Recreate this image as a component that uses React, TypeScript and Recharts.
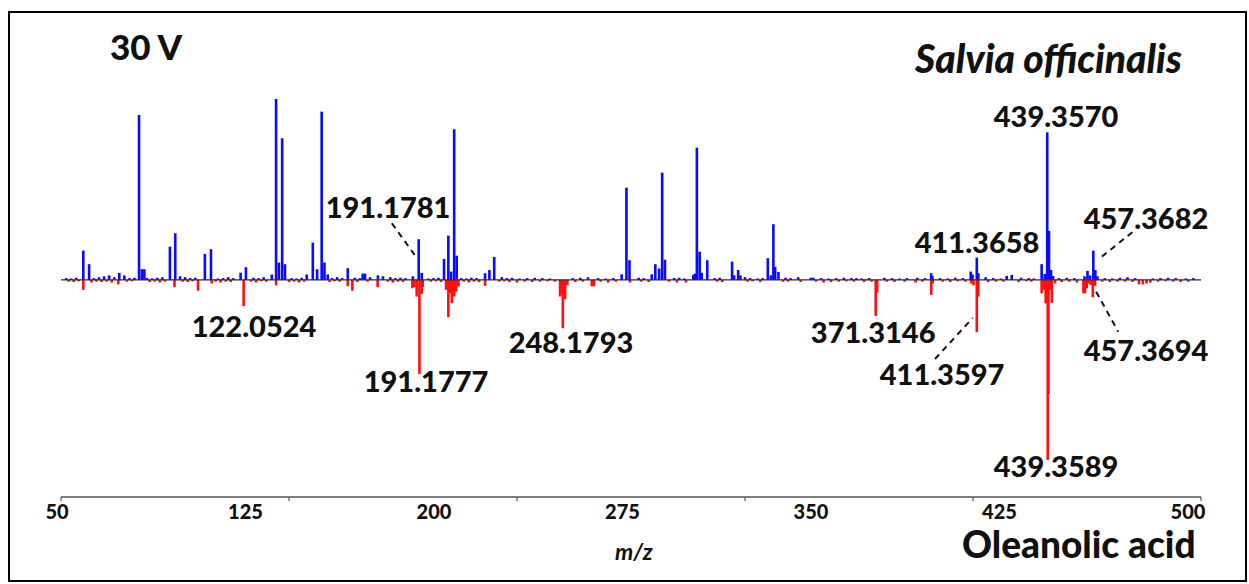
import React from "react";
import {
  BarChart,
  Bar,
  XAxis,
  YAxis,
  ReferenceLine,
  ReferenceDot,
} from "recharts";

// Salvia officinalis (sample) main peaks, relative intensity %
const sampleMz = [
  58.8, 61.1, 80.8, 81.9, 82.9, 93.0, 95.1, 106.8, 109.2, 120.9, 123.0, 133.2,
  134.9, 136.0, 137.3, 138.4, 147.0, 149.4, 151.1, 152.9, 154.0, 155.3, 163.2,
  169.1, 170.0, 175.1, 177.1, 188.9, 191.2, 192.4, 201.2, 202.9, 204.0, 205.2,
  206.2, 217.4, 219.1, 221.0, 271.3, 273.2, 274.4, 283.2, 284.6, 286.1, 287.3,
  288.4, 299.6, 300.3, 301.0, 302.1, 302.9, 305.1, 314.9, 315.7, 317.3, 318.2,
  329.0, 330.2, 331.2, 331.9, 333.2, 393.5, 394.0, 409.1, 409.8, 411.5, 412.1,
  423.3, 425.3, 437.1, 438.3, 439.3, 440.0, 440.8, 441.6, 454.0, 455.2, 456.2,
  457.5, 458.3, 459.1,
];
const sampleInt = [
  16.2, 8.7, 91.2, 5.9, 5.9, 18.4, 25.8, 14.4, 17, 4, 7, 3, 100, 9.6, 78.3,
  8.7, 3, 20.6, 5.9, 93, 9.6, 3, 6.5, 3.5, 3.5, 2.5, 2, 2, 22.5, 3.9, 11.6,
  24.5, 4.6, 83.3, 13.4, 3.7, 5.5, 12.7, 3.1, 51, 10.9, 3.1, 8.7, 6.3, 59.3,
  11.2, 2.8, 3.5, 73.1, 15.6, 4, 10.9, 10.1, 2.5, 5.5, 2.5, 12, 2.5, 30.8, 7.2,
  4.4, 3.7, 2, 4.6, 3, 12.3, 3.7, 2.2, 2.8, 8.7, 3.3, 81.6, 27.1, 5.5, 2.2, 2,
  5, 2.5, 16.2, 5.5, 2,
];

// Oleanolic acid (standard) main peaks, drawn downwards
const standardMz = [
  58.8, 72.6, 94.8, 104.1, 109.5, 122.1, 134.9, 163.2, 165.0, 175.0, 188.7,
  189.5, 190.4, 191.5, 192.4, 192.8, 202.0, 202.9, 203.6, 204.3, 205.2, 206.0,
  206.9, 217.4, 247.0, 247.4, 248.1, 249.0, 249.9, 259.5, 260.4, 371.6, 372.2,
  393.5, 394.1, 409.3, 410.2, 411.5, 412.1, 437.1, 438.0, 438.7, 439.5, 439.8,
  440.5, 441.1, 442.4, 453.6, 454.2, 454.9, 455.6, 456.5, 457.3, 458.2, 475.5,
  477.0, 478.5,
];
const standardInt = [
  -5.5, -2.5, -4, -6, -2, -14.5, -3, -3.5, -6, -4, -4.6, -4, -9.2, -52, -7.7,
  -4, -5.5, -20.6, -7.4, -12.9, -9.2, -6.5, -3.7, -3.3, -9.2, -8, -26.7, -10.7,
  -3, -3.5, -3.5, -19.9, -7, -8.3, -2, -2, -3, -28.9, -9.2, -7.4, -5.5, -13,
  -99.5, -63, -5.5, -12.7, -2, -7.4, -7.4, -4.6, -2, -2.8, -9.6, -3.3, -2.5,
  -2.5, -2,
];

// low-level noise along the baseline
const noiseBlueMz = [
  52, 54, 56, 63, 65, 67, 69, 71, 73, 75, 77, 79, 84, 86, 88, 90, 97, 99, 101,
  103, 112, 114, 116, 118, 126, 128, 130, 141, 143, 145, 157, 159, 161, 166,
  168, 172, 180, 182, 184, 186, 195, 197, 199, 208, 210, 212, 214, 224, 226,
  228, 231, 234, 237, 240, 243, 252, 255, 258, 262, 265, 268, 278, 280, 292,
  294, 296, 308, 310, 320, 322, 325, 327, 336, 338, 341, 346, 347, 350, 353,
  356, 359, 362, 364, 366, 369, 375, 378, 381, 384, 388, 391, 397, 400, 403,
  406, 415, 418, 421, 429, 432, 434, 444, 447, 450, 462, 465, 468, 471, 474,
  481, 484, 487, 490, 494, 497,
];
const noiseBlueInt = [
  1, 0.8, 1.2, 1, 1.5, 2, 2.5, 1.5, 3.9, 2.5, 1, 1.2, 1, 0.8, 1.2, 1.5, 2, 1.5,
  1, 1.2, 0.8, 1, 1.5, 1, 1.2, 1, 1.5, 1, 0.8, 1.2, 1, 1.5, 1, 1.2, 1, 1.5, 1.5,
  1, 1.2, 1, 0.8, 1, 1.2, 1, 0.8, 1.2, 1, 1.5, 1, 1.2, 0.8, 1, 1.2, 1, 0.8, 1,
  1.2, 1.5, 1, 0.8, 1, 1.2, 1, 1, 1.2, 0.8, 1, 1.2, 1.5, 1, 0.8, 1, 1.2, 1, 1.5,
  1.2, 1.2, 1, 0.8, 1, 1.2, 1, 1, 0.8, 1, 1.2, 1, 0.8, 1, 1.2, 1, 1, 0.8, 1.2,
  1, 1.5, 1, 0.8, 1.2, 1, 0.8, 1, 1.2, 1, 1, 0.8, 1.2, 1.5, 1, 0.8, 1, 1.2, 1,
  0.8, 1,
];
const noiseRedMz = [
  53, 55, 57, 62, 64, 66, 68, 70, 76, 78, 85, 87, 89, 91, 98, 100, 102, 111,
  113, 115, 117, 125, 127, 129, 131, 140, 142, 144, 146, 156, 158, 160, 167,
  171, 179, 181, 183, 185, 196, 198, 200, 209, 211, 213, 215, 223, 225, 227,
  230, 233, 236, 239, 242, 245, 253, 256, 263, 266, 269, 274.6, 279, 282, 290,
  293.1, 296.7, 309, 311, 321, 323, 326, 335, 337, 342, 348, 351, 354, 357,
  360, 363, 367, 370, 376, 379, 383, 387.3, 390, 398, 401, 404, 407, 416, 419,
  422, 428, 431, 433, 445, 448, 451, 461, 464, 467, 470, 473, 480, 483, 486,
  489, 492, 495, 498,
];
const noiseRedInt = [
  -1, -1.2, -0.8, -1.5, -1, -1.2, -1, -1.5, -1, -0.8, -1.2, -1, -1.5, -1, -1,
  -1.2, -0.8, -1, -1.5, -1, -1.2, -1, -1.5, -0.8, -1, -1.2, -1, -1.5, -1, -1.2,
  -0.8, -1, -1.2, -1, -1, -1.5, -1, -1.2, -1, -0.8, -1.2, -1, -1.5, -1, -1.2,
  -1, -0.8, -1.2, -1.5, -1, -1.2, -1, -0.8, -1, -1.2, -1, -1, -1.5, -1, -1.5,
  -1, -1.2, -1, -1.5, -1.5, -1, -1.2, -1, -0.8, -1.2, -1, -1, -1.2, -1, -1.5,
  -1.2, -1, -0.8, -1, -1.2, -1, -1, -1.2, -1, -1.5, -1, -1, -1.2, -0.8, -1,
  -1.2, -1, -1, -1.2, -0.8, -1, -1.2, -1, -1.5, -1, -1.2, -1, -1, -1.2, -1.5,
  -1, -0.8, -1, -1.2, -1,
];

// axis ticks
const tickLabels = [50, 125, 200, 275, 350, 425, 500];
const tickMarks = [50, 140, 230, 320, 410, 500];

// peak annotations: text, label position (m/z, intensity)
const peakLabels = [
  { text: "191.1781", x: 179.1, y: 39.8 },
  { text: "439.3570", x: 442.8, y: 90.1 },
  { text: "411.3658", x: 411.6, y: 20.5 },
  { text: "457.3682", x: 478.3, y: 33.7 },
  { text: "122.0524", x: 126.2, y: -26 },
  { text: "191.1777", x: 194.1, y: -56.4 },
  { text: "248.1793", x: 251.3, y: -34.8 },
  { text: "371.3146", x: 370.6, y: -29.3 },
  { text: "411.3597", x: 397.8, y: -52.5 },
  { text: "439.3589", x: 442.8, y: -103.4 },
  { text: "457.3694", x: 478.3, y: -39.2 },
];
// dashed leader lines
const leaders = [
  [{ x: 180.6, y: 31.3 }, { x: 189.8, y: 13.4 }],
  [{ x: 460.9, y: 12.9 }, { x: 473.2, y: 26.7 }],
  [{ x: 395.0, y: -43.7 }, { x: 409.9, y: -21.0 }],
  [{ x: 458.6, y: -6.5 }, { x: 467.3, y: -28.6 }],
];

const FONT = "Lato, 'Open Sans', sans-serif";
const STICK_W = 2.6;

function buildRows() {
  const map = new Map<string, { mz: number; s: number; r: number }>();
  const add = (mz: number, v: number, key: "s" | "r") => {
    const k = mz.toFixed(1);
    const row = map.get(k) ?? { mz, s: 0, r: 0 };
    if (Math.abs(v) > Math.abs(row[key])) row[key] = v;
    map.set(k, row);
  };
  sampleMz.forEach((m, i) => add(m, sampleInt[i], "s"));
  noiseBlueMz.forEach((m, i) => add(m, noiseBlueInt[i], "s"));
  standardMz.forEach((m, i) => add(m, standardInt[i], "r"));
  noiseRedMz.forEach((m, i) => add(m, noiseRedInt[i], "r"));
  return Array.from(map.values()).sort((a, b) => a.mz - b.mz);
}

const rows = buildRows();

// draw each peak as a fixed-width stick centred on its m/z
const Stick = (props: any) => {
  const { x, y, width, height, fill } = props;
  if (!height || Math.abs(height) < 0.01) return null;
  const top = height < 0 ? y + height : y;
  return (
    <rect
      x={x + width / 2 - STICK_W / 2}
      y={top}
      width={STICK_W}
      height={Math.abs(height)}
      fill={fill}
    />
  );
};

const AxisTick = (props: any) => {
  const { x, y, payload } = props;
  const v = payload.value as number;
  const dx = -4 - ((v - 50) / 450) * 9;
  return (
    <g>
      {tickMarks.includes(v) && (
        <line x1={x} x2={x} y1={y} y2={y + 4} stroke="#555" strokeWidth={1.2} />
      )}
      {tickLabels.includes(v) && (
        <text
          x={x + dx}
          y={y + 14}
          textAnchor="middle"
          dominantBaseline="central"
          fontFamily={FONT}
          fontWeight={900}
          fontSize={20}
          fill="#111"
        >
          {v}
        </text>
      )}
    </g>
  );
};

const text = (style: React.CSSProperties): React.CSSProperties => ({
  position: "absolute",
  fontFamily: FONT,
  fontWeight: 900,
  color: "#111",
  whiteSpace: "nowrap",
  lineHeight: 1,
  ...style,
});

export default function App() {
  const allTicks = Array.from(new Set([...tickLabels, ...tickMarks])).sort((a, b) => a - b);
  return (
    <div style={{ position: "absolute", left: 0, top: 0, width: 1249, height: 584, background: "#fff" }}>
      <div
        style={{
          position: "absolute",
          left: 8,
          top: 11,
          width: 1239,
          height: 571,
          border: "2px solid #000",
          boxSizing: "border-box",
        }}
      />
      <BarChart
        width={1249}
        height={584}
        data={rows}
        stackOffset="sign"
        margin={{ top: 99, right: 48, left: 61, bottom: 57 }}
      >
        <XAxis
          dataKey="mz"
          type="number"
          domain={[50, 500]}
          ticks={allTicks}
          interval={0}
          allowDataOverflow
          height={30}
          tickSize={0}
          tickMargin={0}
          tickLine={false}
          tick={<AxisTick />}
          axisLine={{ stroke: "#555", strokeWidth: 1.5 }}
        />
        <YAxis hide domain={[-120, 100]} allowDataOverflow type="number" />
        <Bar dataKey="s" stackId="a" fill="#0a0aff" shape={<Stick />} isAnimationActive={false} />
        <Bar dataKey="r" stackId="a" fill="#ff1010" shape={<Stick />} isAnimationActive={false} />
        <ReferenceLine y={0} stroke="#2a2a40" strokeWidth={1.4} />
        {leaders.map((seg, i) => (
          <ReferenceLine
            key={"l" + i}
            segment={seg}
            stroke="#111"
            strokeWidth={2}
            strokeDasharray="6 5"
            ifOverflow="visible"
          />
        ))}
        {peakLabels.map((p) => (
          <ReferenceDot
            key={p.text}
            x={p.x}
            y={p.y}
            r={0}
            ifOverflow="visible"
            label={{
              value: p.text,
              position: "center",
              fontFamily: FONT,
              fontWeight: 900,
              fontSize: 29,
              fill: "#111",
            }}
          />
        ))}
      </BarChart>
      <div style={text({ left: 110, top: 29, fontSize: 35 })}>30 V</div>
      <div style={text({ left: 915, top: 39, fontSize: 39, fontStyle: "italic" })}>Salvia officinalis</div>
      <div style={text({ left: 962, top: 525, fontSize: 37 })}>Oleanolic acid</div>
      <div style={text({ left: 615, top: 540, fontSize: 23, fontStyle: "italic", fontWeight: 700 })}>m/z</div>
    </div>
  );
}
